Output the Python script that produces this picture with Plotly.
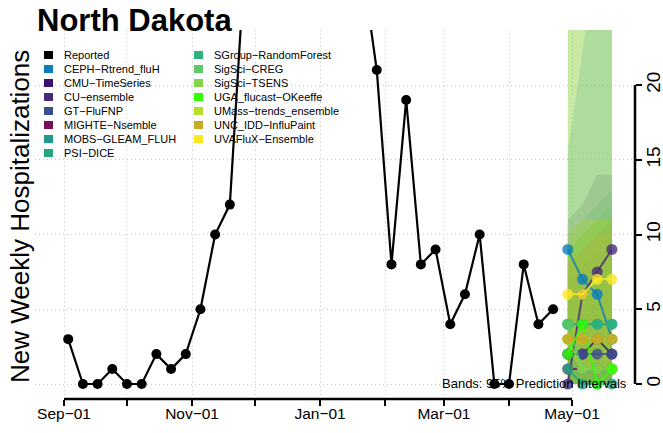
import plotly.graph_objects as go
import pandas as pd

# ---------------- data ----------------
reported_dates = pd.date_range("2022-09-03", periods=34, freq="7D")
reported_values = [3, 0, 0, 1, 0, 0, 2, 1, 2, 5, 10, 12,
                   28, 36, 44, 50, 47, 40, 34, 31, 28,
                   21, 8, 19, 8, 9, 4, 6, 10, 0, 0, 8, 4, 5]

forecast_dates = pd.to_datetime(["2023-04-29", "2023-05-06", "2023-05-13", "2023-05-20"])

model_names = ["CEPH\u2212Rtrend_fluH", "CMU\u2212TimeSeries", "CU\u2212ensemble", "GT\u2212FluFNP",
               "MIGHTE\u2212Nsemble", "MOBS\u2212GLEAM_FLUH", "PSI\u2212DICE", "SGroup\u2212RandomForest",
               "SigSci\u2212CREG", "SigSci\u2212TSENS", "UGA_flucast\u2212OKeeffe",
               "UMass\u2212trends_ensemble", "UNC_IDD\u2212InfluPaint", "UVAFluX\u2212Ensemble"]
model_colors = ["#0b7dbb", "#3d0f6e", "#472b7a", "#3b4f8c", "#7a0b5a", "#1f9a8a", "#22a884",
                "#2db27d", "#5ec962", "#86d549", "#33ff00", "#b5de2b", "#c8a824", "#fde725"]

model_median = [
    [9, 7, 6, 3],
    [2, 2, 3, 2],
    [0, 6, 7.5, 9],
    [2, 2, 2, 2],
    [1, 1, 1, 1],
    [4, 4, 4, 4],
    [1, 0, 0, 0],
    [4, 4, 4, 4],
    [4, 1, 1, 1],
    [3, 1, 1, 1],
    [2, 4, 0, 1],
    [3, 3, 3, 3],
    [3, 3, 3, 3],
    [6, 6, 7, 7],
]
model_lower = [
    [3, 1, 0, 0], [0, 0, 0, 0], [0, 0, 0, 0], [0, 0, 0, 0], [0, 0, 0, 0],
    [0, 0, 0, 0], [0, 0, 0, 0], [0, 0, 0, 0], [0, 0, 0, 0], [0, 0, 0, 0],
    [0, 0, 0, 0], [0, 0, 0, 0], [0, 0, 0, 0], [2, 1, 1, 1],
]
model_upper = [
    [15.5, 22, 29, 36], [8, 9, 10, 11], [11, 12, 14, 14], [7, 8, 9, 10], [9, 10, 11, 11],
    [10, 11, 12, 13], [6, 7, 8, 8], [10, 11, 11, 12], [30, 35, 40, 45], [24, 30, 36, 42],
    [9, 10, 11, 11], [26, 30, 34, 38], [8, 9, 10, 10], [10, 11, 11, 11],
]

month_ticks = pd.date_range("2022-09-01", "2023-05-01", freq="MS")
month_labels = ["Sep\u221201", "", "Nov\u221201", "", "Jan\u221201", "", "Mar\u221201", "", "May\u221201"]
y_ticks = [0, 5, 10, 15, 20]

# ---------------- geometry ----------------
W, H = 663, 433
L, R, T, B = 35, 28, 30, 34
PW, PH = W - L - R, H - T - B
px_per_day = 2.0992
sep1 = pd.Timestamp("2022-09-01")
x0 = sep1 - pd.Timedelta(days=(64 - L) / px_per_day)
x1 = x0 + pd.Timedelta(days=PW / px_per_day)
y_lo, y_hi = -1.003, 23.68

def hexa(c, a):
    c = c.lstrip("#")
    return "rgba(%d,%d,%d,%.3f)" % (int(c[0:2], 16), int(c[2:4], 16), int(c[4:6], 16), a)

FONT = "Liberation Sans, Arial, Helvetica, sans-serif"

fig = go.Figure()

# prediction bands
for name, col, lo, up in zip(model_names, model_colors, model_lower, model_upper):
    xs = list(forecast_dates) + list(forecast_dates[::-1])
    ys = list(up) + list(lo[::-1])
    fig.add_trace(go.Scatter(x=xs, y=ys, fill="toself", fillcolor=hexa(col, 0.2),
                             line=dict(width=0), mode="lines", hoverinfo="skip", showlegend=False))

# reported
fig.add_trace(go.Scatter(x=reported_dates, y=reported_values, mode="lines+markers",
                         line=dict(color="black", width=2.2),
                         marker=dict(color="black", size=10), showlegend=False))

# forecasts
for name, col, med in zip(model_names, model_colors, model_median):
    fig.add_trace(go.Scatter(x=forecast_dates, y=med, mode="lines+markers",
                             line=dict(color=hexa(col, 0.8), width=2),
                             marker=dict(color=hexa(col, 0.8), size=11), showlegend=False))

shapes = []
annotations = []

# axis lines (R style)
shapes.append(dict(type="line", xref="x", yref="paper", x0=month_ticks[0], x1=month_ticks[-1],
                   y0=0, y1=0, line=dict(color="black", width=2.5)))
shapes.append(dict(type="line", xref="paper", yref="y", x0=1, x1=1, y0=y_ticks[0], y1=y_ticks[-1],
                   line=dict(color="black", width=2.5)))

# legend
def xp(px):
    return (px - L) / PW

def yp(py):
    return (H - B - py) / PH

leg_names = ["Reported"] + model_names
leg_colors = ["#000000"] + model_colors
for i, (nm, col) in enumerate(zip(leg_names, leg_colors)):
    colm, row = divmod(i, 8)
    sx = 44 if colm == 0 else 194
    cy = 55 + row * 14
    shapes.append(dict(type="rect", xref="paper", yref="paper",
                       x0=xp(sx), x1=xp(sx + 9), y0=yp(cy + 4), y1=yp(cy - 4),
                       fillcolor=col, line=dict(width=0)))
    annotations.append(dict(text=nm, xref="paper", yref="paper", x=xp(sx + 18), y=yp(cy),
                            xanchor="left", yanchor="middle", showarrow=False,
                            font=dict(size=11, color="black", family=FONT)))

# title
annotations.append(dict(text="<b>North Dakota</b>", xref="paper", yref="paper", x=xp(35), y=yp(21),
                        xanchor="left", yanchor="middle", showarrow=False,
                        font=dict(size=31, color="black", family=FONT)))
# y title
annotations.append(dict(text="New Weekly Hospitalizations", xref="paper", yref="paper",
                        x=xp(20), y=yp(217), xanchor="center", yanchor="middle", textangle=-90,
                        showarrow=False, font=dict(size=26, color="black", family=FONT)))
# band note
annotations.append(dict(text="Bands: 95% Prediction Intervals", xref="paper", yref="paper",
                        x=xp(629), y=yp(383), xanchor="right", yanchor="middle", showarrow=False,
                        font=dict(size=13, color="black", family=FONT)))

fig.update_layout(
    width=W, height=H, margin=dict(l=L, r=R, t=T, b=B, pad=0, autoexpand=False),
    plot_bgcolor="white", paper_bgcolor="white",
    showlegend=False, shapes=shapes, annotations=annotations,
    font=dict(family=FONT, color="black"),
    xaxis=dict(type="date", range=[x0, x1], tickvals=month_ticks, ticktext=month_labels,
               ticks="outside", ticklen=6, tickwidth=2, tickcolor="black",
               showline=False, zeroline=False, automargin=False, ticklabelstandoff=-6,
               showgrid=True, gridcolor="#c8c8c8", griddash="1px,3px", gridwidth=1,
               tickfont=dict(size=15.5, family=FONT, color="black")),
    yaxis=dict(side="right", range=[y_lo, y_hi], tickvals=y_ticks, ticktext=[str(v) for v in y_ticks],
               ticks="outside", ticklen=6, tickwidth=2, tickcolor="black", tickangle=-90,
               showline=False, zeroline=False, automargin=False, ticklabelstandoff=-5,
               showgrid=True, gridcolor="#c8c8c8", griddash="1px,3px", gridwidth=1,
               tickfont=dict(size=19, family=FONT, color="black")),
)

fig.write_html("out.html", config={"displayModeBar": False},
               post_script="document.body.style.margin='0';document.body.style.overflow='hidden';")
